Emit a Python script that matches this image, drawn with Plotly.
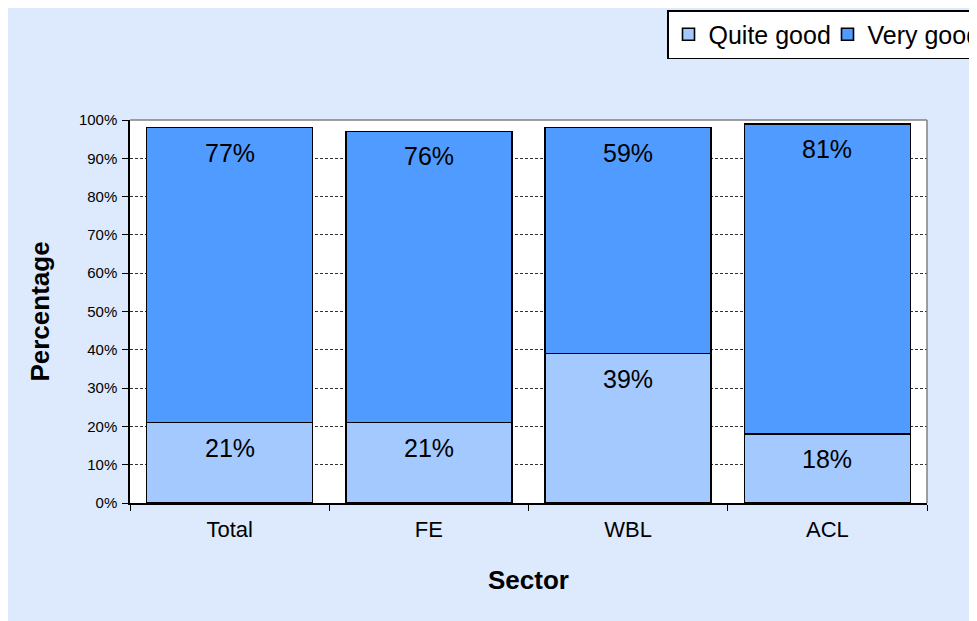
import plotly.graph_objects as go

categories = ["Total", "FE", "WBL", "ACL"]
quite_good = [21, 21, 39, 18]
very_good = [77, 76, 59, 81]
y_ticks = [0, 10, 20, 30, 40, 50, 60, 70, 80, 90, 100]
y_tick_labels = [f"{v}%" for v in y_ticks]

LIGHT = "#A4C9FE"
DARK = "#509BFF"
BG = "#DDEAFE"
FONT = "Liberation Sans, Arial, sans-serif"

# figure is placed at page offset (8, 8) by the default body margin
W, H = 969, 613
L, R, T, B = 122, 50, 112, 118
pw, ph = W - L - R, H - T - B


def px2x(p):
    return (p - L) / pw


def py2y(p):
    return (H - B - p) / ph


fig = go.Figure()
fig.add_trace(go.Bar(x=categories, y=quite_good, name="Quite good",
                     marker=dict(color=LIGHT, line=dict(color="black", width=1.6))))
fig.add_trace(go.Bar(x=categories, y=very_good, name="Very good",
                     marker=dict(color=DARK, line=dict(color="black", width=1.6))))

annotations = []
for c, q, v in zip(categories, quite_good, very_good):
    annotations.append(dict(x=c, y=q, text=f"{q}%", showarrow=False, yanchor="top",
                            yshift=-9, font=dict(size=25, color="black", family=FONT)))
    annotations.append(dict(x=c, y=q + v, text=f"{v}%", showarrow=False, yanchor="top",
                            yshift=-9, font=dict(size=25, color="black", family=FONT)))

shapes = [
    dict(type="line", xref="paper", yref="paper", x0=0, x1=1, y0=1, y1=1,
         line=dict(color="#808080", width=1.5)),
    dict(type="line", xref="paper", yref="paper", x0=1, x1=1, y0=0, y1=1,
         line=dict(color="#808080", width=1.5)),
]

fig.update_layout(
    barmode="stack",
    bargap=0.167,
    width=W, height=H,
    margin=dict(l=L, r=R, t=T, b=B, autoexpand=False),
    paper_bgcolor=BG,
    plot_bgcolor="white",
    font=dict(family=FONT, color="black"),
    showlegend=True,
    legend=dict(orientation="h", x=px2x(659), y=py2y(2), xanchor="left", yanchor="top",
                bgcolor="white", bordercolor="black", borderwidth=1.5,
                font=dict(size=25, family=FONT, color="black"),
                traceorder="normal", entrywidth=114, itemwidth=30),
    annotations=annotations,
    shapes=shapes,
    xaxis=dict(
        showline=True, linecolor="black", linewidth=1.5,
        ticks="outside", ticklen=6, tickcolor="black", tickson="boundaries",
        tickfont=dict(size=22, family=FONT), ticklabelstandoff=6,
        title=dict(text="<b>Sector</b>", font=dict(size=26, family=FONT), standoff=30),
        showgrid=False,
    ),
    yaxis=dict(
        range=[0, 100], tickvals=y_ticks, ticktext=y_tick_labels,
        showline=True, linecolor="black", linewidth=1.5,
        ticks="outside", ticklen=6, tickcolor="black",
        tickfont=dict(size=15, family=FONT), ticklabelstandoff=2,
        showgrid=True, gridcolor="#333333", gridwidth=1, griddash="3px,2px",
        zeroline=False,
        title=dict(text="<b>Percentage</b>", font=dict(size=26, family=FONT), standoff=22),
    ),
)

fig.write_html("out.html")
